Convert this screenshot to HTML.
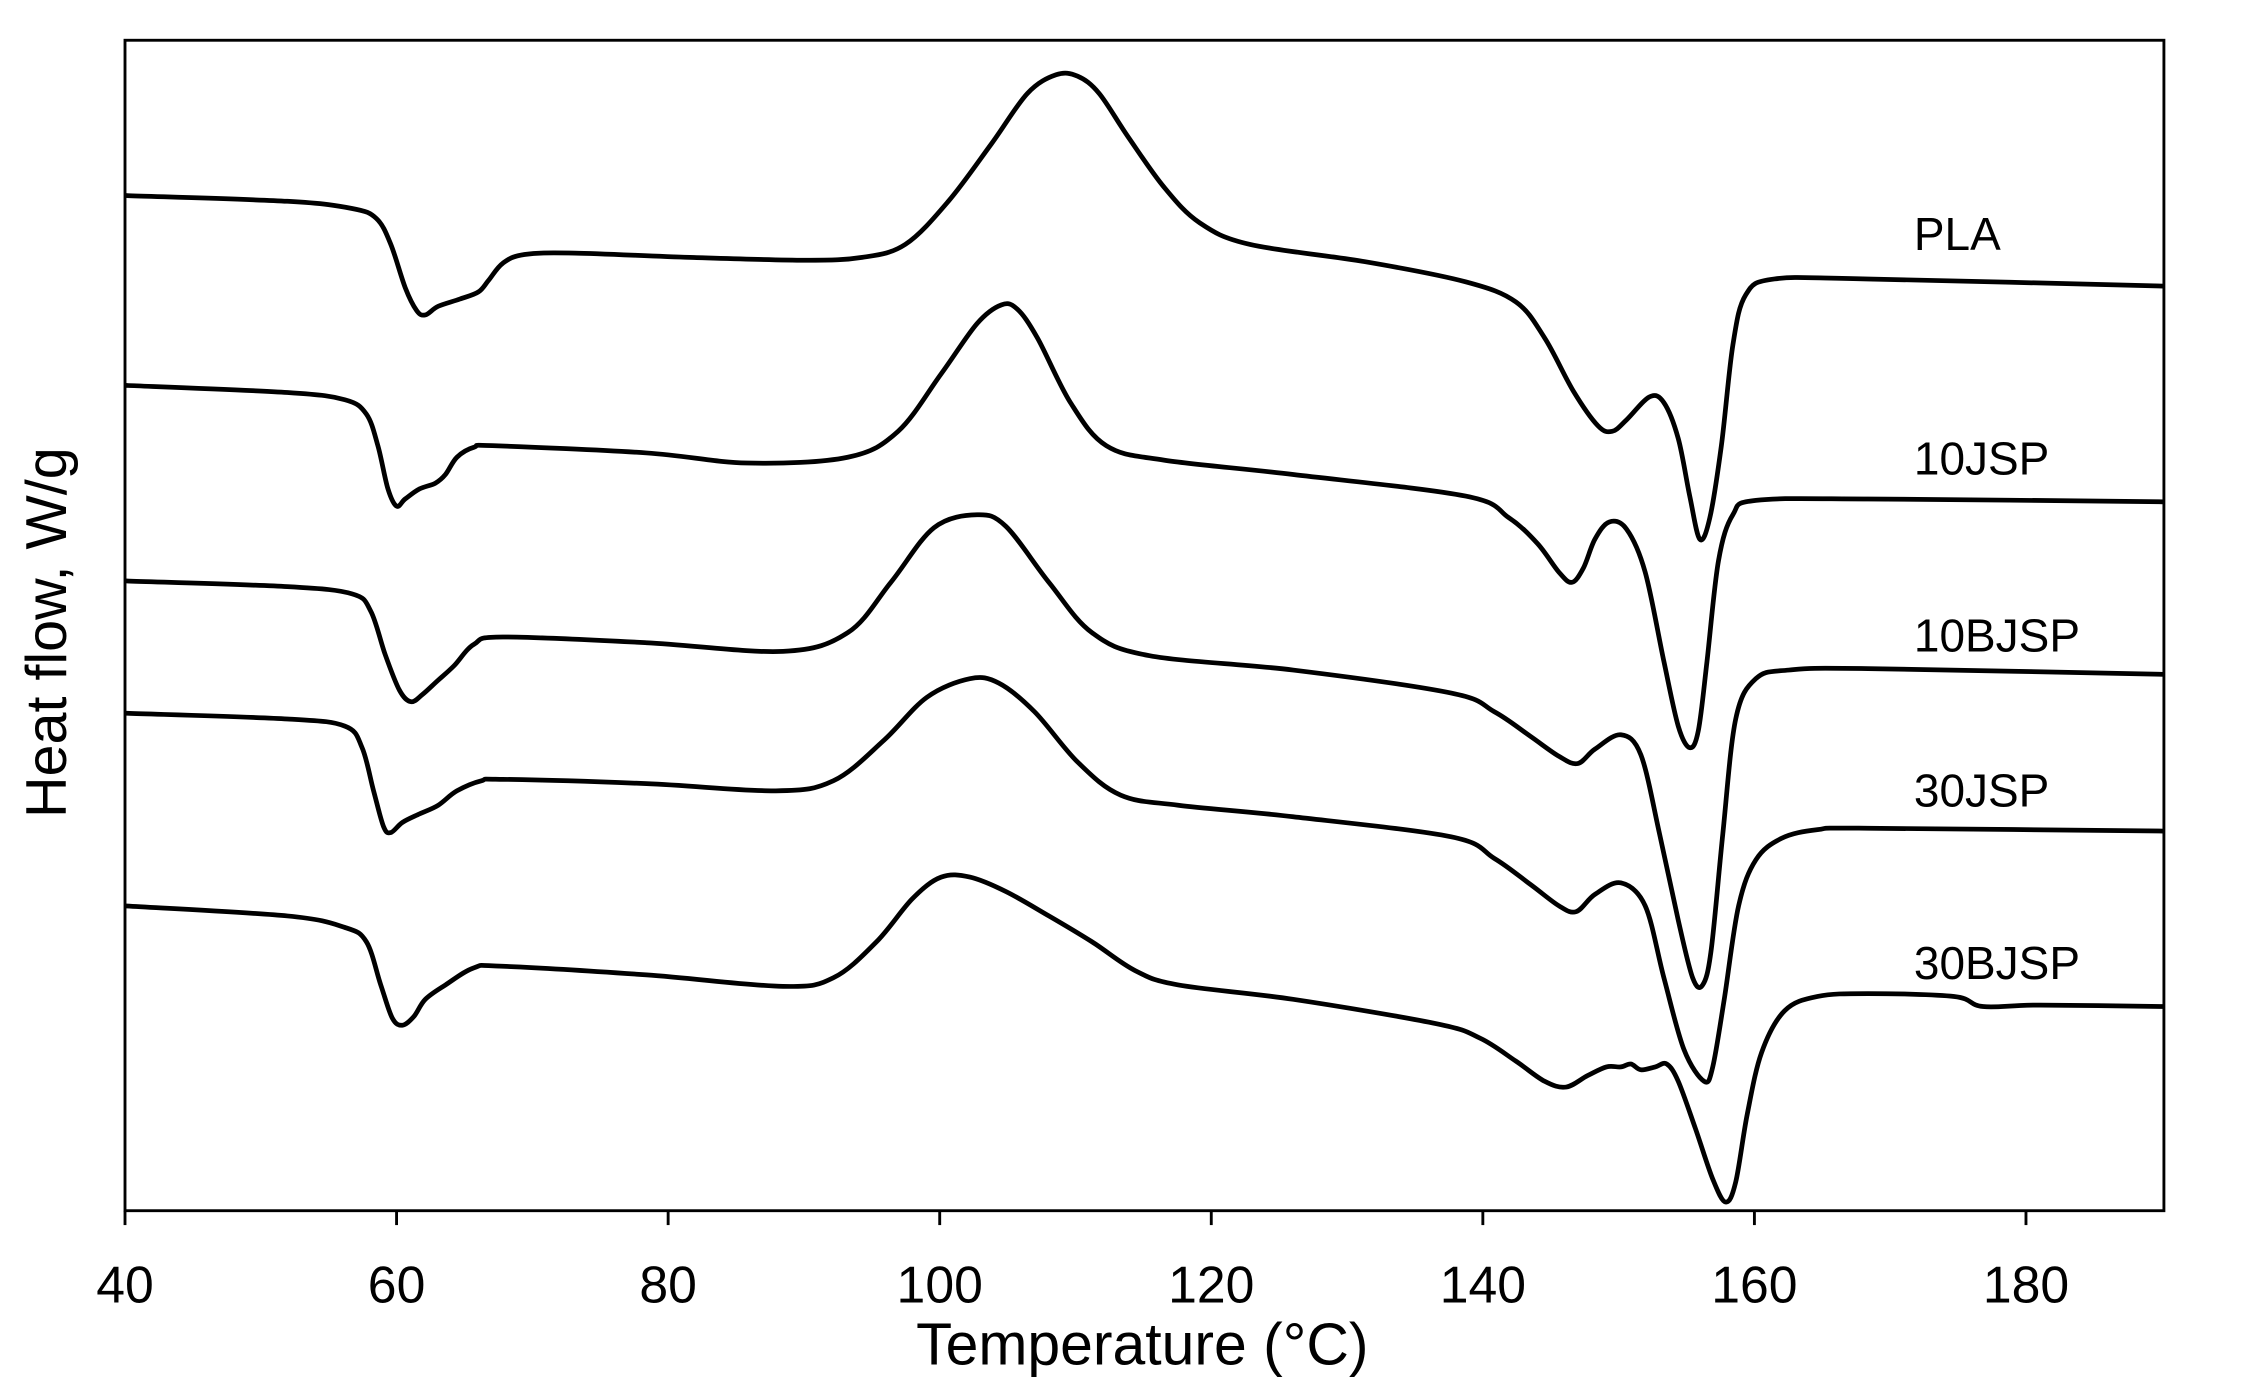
<!DOCTYPE html>
<html><head><meta charset="utf-8"><style>
html,body{margin:0;padding:0;background:#fff;}
svg{display:block;}
text{font-family:"Liberation Sans",sans-serif;fill:#000;}
</style></head><body>
<svg id="s" width="2253" height="1389" viewBox="0 0 1568 966" preserveAspectRatio="none" xmlns="http://www.w3.org/2000/svg">
<rect x="0" y="0" width="1568" height="966" fill="#fff"/>
<rect x="87" y="28" width="1419" height="814" fill="none" stroke="#000" stroke-width="2"/>
<g stroke="#000" stroke-width="2">
<line x1="87" y1="842" x2="87" y2="852"/><line x1="276" y1="842" x2="276" y2="852"/>
<line x1="465" y1="842" x2="465" y2="852"/><line x1="654" y1="842" x2="654" y2="852"/>
<line x1="843" y1="842" x2="843" y2="852"/><line x1="1032" y1="842" x2="1032" y2="852"/>
<line x1="1221" y1="842" x2="1221" y2="852"/><line x1="1410" y1="842" x2="1410" y2="852"/>
</g>
<g font-size="36" text-anchor="middle">
<text x="87" y="906">40</text><text x="276" y="906">60</text><text x="465" y="906">80</text>
<text x="654" y="906">100</text><text x="843" y="906">120</text><text x="1032" y="906">140</text>
<text x="1221" y="906">160</text><text x="1410" y="906">180</text>
</g>
<text x="795" y="949" font-size="41" text-anchor="middle">Temperature (°C)</text>
<text transform="translate(46,440) rotate(-90)" font-size="40" text-anchor="middle">Heat flow, W/g</text>
<g font-size="32">
<text x="1332" y="174">PLA</text><text x="1332" y="330">10JSP</text>
<text x="1332" y="453">10BJSP</text><text x="1332" y="561">30JSP</text>
<text x="1332" y="681">30BJSP</text>
</g>
<g id="curves" fill="none" stroke="#000" stroke-width="3.3" stroke-linejoin="round"></g>
</svg>
<script>
var C=[
[[87,136],[200,140],[245,145],[262,152],[272,170],[282,200],[290,216],[296,219],[305,213],[320,208],[333,203],[340,195],[350,183],[365,177],[400,176],[480,179],[560,181],[600,179],[630,170],[660,140],[690,100],[715,65],[735,52],[750,53],[765,65],[785,95],[810,130],[835,155],[870,170],[950,182],[1020,196],[1055,210],[1075,235],[1095,272],[1112,296],[1122,300],[1132,292],[1148,276],[1158,280],[1168,305],[1176,345],[1183,375],[1190,360],[1198,310],[1206,240],[1215,205],[1235,194],[1300,194],[1506,199]],
[[87,268],[200,273],[240,278],[255,288],[263,310],[270,340],[276,352],[282,347],[292,340],[303,336],[310,330],[318,318],[330,311],[345,310],[450,315],[520,322],[590,318],[625,300],[655,260],[680,225],[697,212],[708,215],[722,235],[745,280],[770,310],[810,320],[900,330],[1020,345],[1050,360],[1070,378],[1085,398],[1094,405],[1102,395],[1110,375],[1120,363],[1132,368],[1145,398],[1158,460],[1168,505],[1176,520],[1182,508],[1188,460],[1196,390],[1206,358],[1222,348],[1300,347],[1506,349]],
[[87,404],[200,408],[245,413],[258,425],[268,455],[278,480],[286,488],[294,483],[305,473],[316,463],[330,448],[350,443],[450,447],[545,453],[590,440],[620,405],[650,367],[680,358],[700,366],[730,405],[760,440],[800,456],[900,466],[1010,482],[1040,495],[1065,512],[1085,526],[1098,531],[1110,521],[1128,511],[1142,525],[1155,580],[1168,640],[1178,680],[1185,685],[1191,660],[1199,580],[1208,500],[1222,472],[1245,466],[1300,465],[1506,469]],
[[87,496],[200,500],[240,505],[252,520],[260,550],[267,575],[272,579],[280,572],[292,566],[305,560],[318,550],[335,543],[350,542],[450,545],[540,550],[580,543],[615,515],[645,485],[675,472],[695,475],[720,495],[750,530],[780,553],[820,560],[900,568],[1010,582],[1040,597],[1065,615],[1085,630],[1097,634],[1110,622],[1128,614],[1145,630],[1158,680],[1172,730],[1186,752],[1192,742],[1200,695],[1210,630],[1222,598],[1240,583],[1265,577],[1300,576],[1506,578]],
[[87,630],[200,637],[240,645],[255,655],[265,685],[273,708],[280,713],[288,707],[296,695],[310,685],[330,673],[350,672],[450,678],[545,686],[580,680],[610,655],[635,625],[655,610],[675,610],[700,620],[730,637],[760,655],[790,675],[820,685],[900,695],[1000,712],[1030,722],[1055,738],[1075,752],[1090,756],[1105,748],[1118,742],[1128,742],[1135,740],[1142,744],[1152,742],[1160,740],[1168,752],[1180,785],[1192,820],[1201,836],[1208,822],[1216,775],[1226,732],[1242,703],[1265,693],[1300,691],[1360,693],[1380,700],[1420,699],[1506,700]]
];
function path(p){var d="M"+p[0][0]+","+p[0][1];for(var i=0;i<p.length-1;i++){var a=p[i-1]||p[i],b=p[i],c=p[i+1],e=p[i+2]||c;
var c1x=b[0]+(c[0]-a[0])/6,c1y=b[1]+(c[1]-a[1])/6,c2x=c[0]-(e[0]-b[0])/6,c2y=c[1]-(e[1]-b[1])/6;
d+=" C"+c1x.toFixed(1)+","+c1y.toFixed(1)+" "+c2x.toFixed(1)+","+c2y.toFixed(1)+" "+c[0]+","+c[1];}return d;}
var g=document.getElementById("curves");
C.forEach(function(p){var el=document.createElementNS("http://www.w3.org/2000/svg","path");el.setAttribute("d",path(p));g.appendChild(el);});
</script>
</body></html>
